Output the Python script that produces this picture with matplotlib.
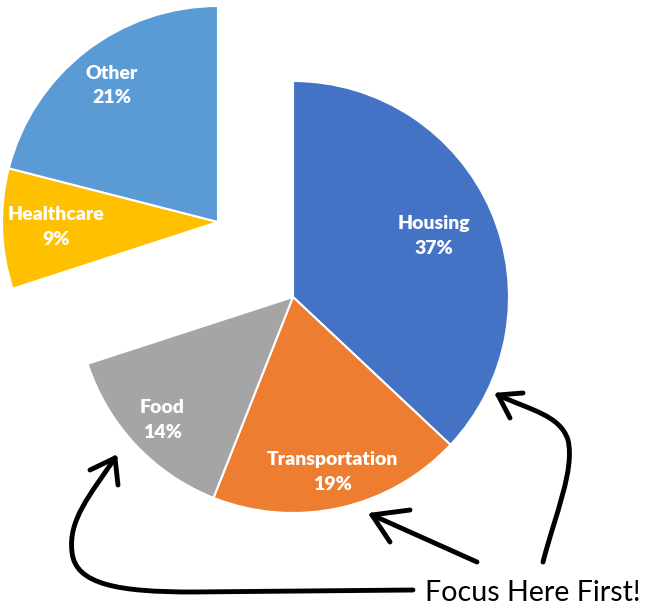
import numpy as np
import matplotlib.pyplot as plt
from matplotlib.path import Path
from matplotlib.patches import PathPatch

categories = ['Housing', 'Transportation', 'Food', 'Healthcare', 'Other']
shares = [37, 19, 14, 9, 21]
colors = ['#4472C4', '#ED7D31', '#A5A5A5', '#FFC000', '#5B9BD5']
pulled_out = ['Healthcare', 'Other']
callout = 'Focus Here First!'

plt.rcParams['font.family'] = ['Lato', 'DejaVu Sans']

fig = plt.figure(figsize=(6.51, 6.16), dpi=100)
ax = fig.add_axes([0, 0, 1, 1])

H = 616
center = (293, H - 297)
shifted = (218, H - 222)
radius = 216

wedges, _ = ax.pie(shares, colors=colors, startangle=90, counterclock=False,
                   center=center, radius=radius,
                   wedgeprops=dict(edgecolor='white', linewidth=1.5))

# label distance as fraction of radius (Excel "best fit" look)
label_frac = [0.71, 0.83, 0.83, 0.75, 0.80]
for w, name, val, fr in zip(wedges, categories, shares, label_frac):
    c = center
    if name in pulled_out:
        w.set_center(shifted)
        c = shifted
    mid = np.deg2rad((w.theta1 + w.theta2) / 2)
    x = c[0] + radius * fr * np.cos(mid)
    y = c[1] + radius * fr * np.sin(mid)
    ax.text(x, y, f'{name}\n{val}%', ha='center', va='center', color='white',
            fontsize=14, fontweight='heavy', linespacing=1.55)

ax.set_xlim(0, 651)
ax.set_ylim(0, H)
ax.set_aspect('equal')
ax.axis('off')


def stroke(pts, codes):
    p = Path([(x, H - y) for x, y in pts], codes)
    ax.add_patch(PathPatch(p, fill=False, edgecolor='black', lw=3.5,
                           capstyle='round', joinstyle='round'))


def head(tip, a, b):
    for q in (a, b):
        ax.plot([tip[0], q[0]], [H - tip[1], H - q[1]], color='black', lw=3.5,
                solid_capstyle='round')


M, C, L = Path.MOVETO, Path.CURVE4, Path.LINETO
# arrow to Housing
stroke([(543, 562), (555, 515), (575, 470), (568, 440),
        (560, 415), (530, 410), (498, 395)], [M, C, C, C, C, C, C])
head((498, 395), (523, 393), (510, 418))
# arrow to Transportation
stroke([(477, 562), (372, 515)], [M, L])
head((372, 515), (410, 510), (390, 542))
# arrow to Food
stroke([(413, 590), (193, 592), (120, 592), (75, 585), (72, 552),
        (68, 520), (90, 495), (115, 458)], [M, L, C, C, C, C, C, C])
head((115, 458), (90, 470), (118, 485))

ax.text(425, H - 593, callout, ha='left', va='center', fontsize=20.6)

fig.savefig('out.png', dpi=100)
